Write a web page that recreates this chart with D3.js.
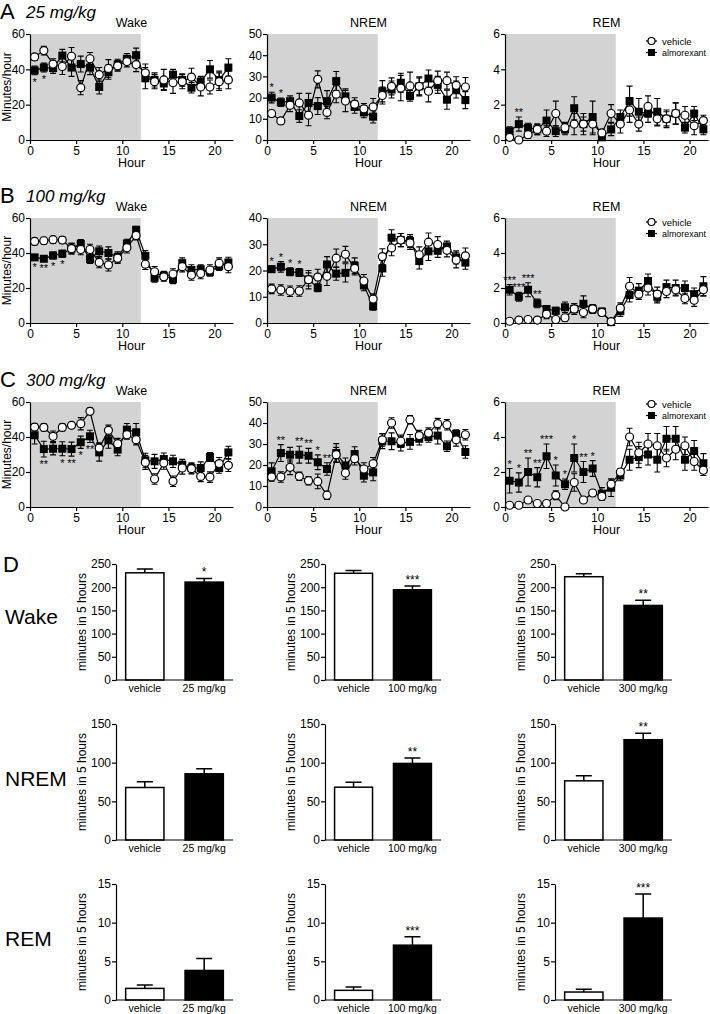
<!DOCTYPE html>
<html><head><meta charset="utf-8">
<script src="https://cdn.jsdelivr.net/npm/d3@7"></script>
<style>
body{margin:0;background:#fff}
svg{display:block}
text{font-family:"Liberation Sans",Arial,Helvetica,sans-serif;fill:#000}
.star{opacity:0.999}
</style>
</head><body>
<svg id="c" width="710" height="1014"></svg>
<script>
// ---------- DATA ----------
const hours = [0.5,1.5,2.5,3.5,4.5,5.5,6.5,7.5,8.5,9.5,10.5,11.5,12.5,13.5,14.5,15.5,16.5,17.5,18.5,19.5,20.5,21.5];
const hourTicks = [0,5,10,15,20];
const stateNames = ["Wake","NREM","REM"];
const doseNames = ["25 mg/kg","100 mg/kg","300 mg/kg"];
const rowLetters = ["A","B","C"];
const seriesNames = ["vehicle","almorexant"];

// A: 25 mg/kg
const wakeVehA = [47,50.6,43,41.6,47.4,29.6,46,37,40.5,42,44.4,42.7,38,33,34,32.4,33,35.6,30,30,33,34];
const wakeVehAErr = [2,2.5,3,4.5,5,4,3.5,4,5,3,3,4,5,4,6,6,4,5,5,4,5,5];
const wakeAlmA = [39.4,41,40.7,47.8,41,43,41,30,38.4,42.7,46,48,35,34,32,37,34,29.6,33,40,34,41];
const wakeAlmAErr = [2.5,2.5,3,3.5,5,4.5,4,4,4,3,3,4,6,4,3.5,3,3.5,3,3,5,5,5];
const nremVehA = [12.5,9,16.4,17.5,11.7,28.6,13,21.6,18.4,16.9,14.7,15.6,21,25.3,24.5,25.5,25.3,23,28,28,25.8,25];
const nremVehAErr = [1.5,1.5,3,4.5,5,4,3,4,5,3,2.5,4,4,4,6,6.5,4.5,5,4.5,4,4,4.5];
const nremAlmA = [20,17.8,18.3,11.3,17.5,16,18.3,27.8,20.6,15.6,13,11,23,23.8,27,20.8,25.3,29,26,19,23.8,18.8];
const nremAlmAErr = [2.5,2,2.5,3,4.5,4,5,4.5,3.5,3,2.5,3,5,4,4.5,2.5,4,4,4,4.5,4,4];
const remVehA = [0.15,0,0.3,0.6,0.5,1.5,0.7,0.9,0.9,0.9,0.4,1.5,0.9,1.7,0.9,1.9,1.2,1.2,1.5,1.4,0.8,1.1];
const remVehAErr = [0.1,0.05,0.2,0.3,0.3,0.7,0.3,0.6,0.6,0.6,0.2,0.5,0.5,0.7,0.4,0.6,0.4,0.4,0.6,0.5,0.5,0.3];
const remAlmA = [0.5,0.9,0.7,0.6,1.1,0.5,0.6,1.8,0.9,1.3,0.15,0.6,1.3,2.2,1.6,1.5,1.6,1.2,1.5,0.7,1.5,0.6];
const remAlmAErr = [0.25,0.4,0.25,0.3,0.6,0.3,0.3,0.65,0.4,0.9,0.1,0.35,0.4,0.85,0.75,0.5,0.75,0.5,0.6,0.3,0.4,0.3];

// B: 100 mg/kg
const wakeVehB = [46.6,47,47.6,47.4,42.5,42,42,34.6,33.2,37,43,50,33.6,29.3,26.4,28,32.2,27.4,28.3,30.3,34.2,32.2];
const wakeVehBErr = [2,2,2,2,3,3,3,3,3.5,3,3,2.5,3,3,2.5,3,3,3,3,3,3,3.5];
const wakeAlmB = [37.5,36.7,38.6,39.6,42.5,45.2,36.5,41,40,37.7,45.4,53.2,38.4,25.8,27,25,34.2,30.3,30.7,29.3,32.6,34.6];
const wakeAlmBErr = [1.5,1.5,2,2,3,2.5,2.5,3,3.5,3,2.5,2,3,2.5,2.5,2.5,3,3,2.5,2.5,2.5,3];
const nremVehB = [13,12.6,12.1,12.2,16.5,17.5,17.8,24.7,26.2,20.8,16,9.1,25.3,28.6,31.6,30.5,26,30.8,29.9,27.7,24,25.6];
const nremVehBErr = [1.8,2,2,2,3.5,3,3.5,3.5,3,2.5,2.5,2,3,3,2.5,2.5,3,3.5,3,2.5,3,3];
const nremAlmB = [20.5,21.4,19.5,19.2,16.6,13.4,22.3,18.8,19.1,21.8,14.3,6.4,20.8,32.5,31.6,31.2,23.6,27.3,27.5,29.2,25,23];
const nremAlmBErr = [1.2,2,1.5,1.5,2.5,1.5,3,2.5,3.5,3,2,1.5,3,3,2.5,2.5,3,3.5,2.5,2,2.5,2.5];
const remVehB = [0.1,0.17,0.2,0.17,0.5,0.2,0.3,0.8,0.6,0.8,0.6,0.08,0.85,2.1,1.65,2.0,1.65,1.8,1.9,1.4,1.3,1.9];
const remVehBErr = [0.05,0.05,0.1,0.05,0.25,0.1,0.2,0.3,0.3,0.25,0.2,0.05,0.3,0.5,0.3,0.4,0.4,0.35,0.3,0.3,0.35,0.35];
const remAlmB = [1.9,1.5,1.9,1.12,0.8,0.7,0.9,0.8,1.1,0.8,0.65,0.05,0.67,1.6,1.85,2.4,1.5,2.05,2.0,2.0,1.65,2.1];
const remAlmBErr = [0.3,0.25,0.4,0.25,0.2,0.2,0.3,0.3,0.45,0.25,0.2,0.05,0.3,0.4,0.4,0.4,0.35,0.4,0.45,0.4,0.35,0.55];

// C: 300 mg/kg
const wakeVehC = [45.7,45.5,40.4,45.5,46.7,47.6,54.7,33.7,43.8,36.2,41.3,38.5,25.5,16,25.1,14.7,22.3,21.9,17.5,17.1,24.8,23.8];
const wakeVehCErr = [2,2,3,2,1.5,3.5,2,3,3,3,2.5,3,4,3,3.5,3,3.5,3,3,3,3.5,3.5];
const wakeAlmC = [41,33.1,33.3,33.3,33.1,37,40.4,31.2,38.1,32.8,44.2,42.7,26.7,26.1,27.4,26.1,24.2,22.3,22.3,28.6,22.3,31.2];
const wakeAlmCErr = [5,4.5,3.5,4,4,3.5,3.5,5,4.5,3.5,3.5,5,4,4,3.5,3.5,3,3,3.5,2.5,3,3.5];
const nremVehC = [14.3,14.3,18.9,14.6,12.5,12.2,5.6,24.9,16.2,23,18.1,20.6,32,40,31.3,41.6,34,35.2,39.7,39.2,32,34.4];
const nremVehCErr = [2,2.5,3.5,2,2,3.5,2,3.5,3,3,3,3,3,2.5,3,2,2.5,2.5,2.5,2.5,3,2.5];
const nremAlmC = [17,25.7,24.9,24.9,24.4,21.3,18.1,25.7,19.8,25.2,14.9,16.5,31.3,31.3,30.2,31,32.5,33.3,34,28.9,34.8,26.2];
const nremAlmCErr = [4,4,3.5,4,3.5,3.5,3,4.5,3.5,3.5,3,4,3.5,4,3.5,3.5,3,2.5,4,2.5,2,3];
const remVehC = [0.1,0.1,0.4,0.2,0.2,0.67,0,1.4,0.4,0.8,0.6,1.3,2.0,4.0,3.1,3.6,3.5,2.8,3.3,3.5,2.6,2.1];
const remVehCErr = [0.05,0.05,0.15,0.05,0.1,0.25,0.02,0.5,0.1,0.2,0.2,0.3,0.2,0.5,0.6,0.6,0.7,0.5,0.6,0.5,0.5,0.3];
const remAlmC = [1.5,1.4,2.0,1.7,2.9,1.8,1.3,2.8,2.0,2.2,0.76,1.1,1.8,2.7,2.85,3.0,2.7,3.9,3.9,2.7,3.2,2.5];
const remAlmCErr = [0.7,0.55,0.8,0.55,0.7,0.6,0.3,0.8,0.6,0.45,0.35,0.5,0.3,0.6,0.6,0.6,0.7,0.7,0.7,0.6,0.6,0.55];

// significance marks: [hour, label, side]
const starsWakeA = [[0.5,"*","below"],[1.5,"*","below"]];
const starsNremA = [[0.5,"*","above"],[1.5,"*","above"]];
const starsRemA = [[1.5,"**","above"]];
const starsWakeB = [[0.5,"*","below"],[1.5,"**","below"],[2.5,"*","below"],[3.5,"*","below"]];
const starsNremB = [[0.5,"*","above"],[1.5,"*","above"],[2.5,"*","above"],[3.5,"*","above"]];
const starsRemB = [[0.5,"***","above"],[1.5,"***","above"],[2.5,"***","above"],[3.5,"**","above"]];
const starsWakeC = [[1.5,"**","below"],[3.5,"*","below"],[4.5,"**","below"],[5.5,"*","below"],[6.5,"**","below"]];
const starsNremC = [[1.5,"**","above"],[3.5,"**","above"],[4.5,"**","above"],[5.5,"*","above"],[6.5,"**","above"]];
const starsRemC = [[0.5,"*","above"],[1.5,"*","above"],[2.5,"**","above"],[3.5,"**","above"],[4.5,"***","above"],[5.5,"*","above"],[6.5,"*","above"],[7.5,"*","above"],[8.5,"**","above"],[9.5,"*","above"]];

const wakeTicks = [0,20,40,60];
const nremTicksA = [0,10,20,30,40,50];
const nremTicksB = [0,10,20,30,40];
const remTicks = [0,2,4,6];

// D: minutes in 5 hours
const barCats = ["vehicle","almorexant"];
const wakeBarVeh = [231,230,222.6];
const wakeBarVehErr = [8,6,6.5];
const wakeBarAlm = [211,194.5,160.7];
const wakeBarAlmErr = [8,8,11];
const nremBarVeh = [67.9,68.3,76.5];
const nremBarVehErr = [7.3,6.5,6.5];
const nremBarAlm = [85.6,99,129.7];
const nremBarAlmErr = [6.5,7,8.2];
const remBarVeh = [1.5,1.25,1.03];
const remBarVehErr = [0.43,0.43,0.35];
const remBarAlm = [3.82,7.09,10.6];
const remBarAlmErr = [1.55,1.08,3.1];
const wakeBarStars = ["*","***","**"];
const nremBarStars = ["","**","**"];
const remBarStars = ["","***","***"];
const wakeBarTicks = [0,50,100,150,200,250];
const nremBarTicks = [0,50,100,150];
const remBarTicks = [0,5,10,15];
const barYTitle = "minutes in 5 hours";

// ---------- LAYOUT ----------
const svg = d3.select("#c");
const colX = [[30,233],[267,470],[505,708]];
const rowY = [[34,140],[218,323],[402,507]];
const legendY = [41,222,404];
const intFmt = d3.format("d");

const tsRows = [
  {dose:doseNames[0], panels:[
    {v:wakeVehA,ve:wakeVehAErr,a:wakeAlmA,ae:wakeAlmAErr,max:60,ticks:wakeTicks,stars:starsWakeA},
    {v:nremVehA,ve:nremVehAErr,a:nremAlmA,ae:nremAlmAErr,max:50,ticks:nremTicksA,stars:starsNremA},
    {v:remVehA,ve:remVehAErr,a:remAlmA,ae:remAlmAErr,max:6,ticks:remTicks,stars:starsRemA}]},
  {dose:doseNames[1], panels:[
    {v:wakeVehB,ve:wakeVehBErr,a:wakeAlmB,ae:wakeAlmBErr,max:60,ticks:wakeTicks,stars:starsWakeB},
    {v:nremVehB,ve:nremVehBErr,a:nremAlmB,ae:nremAlmBErr,max:40,ticks:nremTicksB,stars:starsNremB},
    {v:remVehB,ve:remVehBErr,a:remAlmB,ae:remAlmBErr,max:6,ticks:remTicks,stars:starsRemB}]},
  {dose:doseNames[2], panels:[
    {v:wakeVehC,ve:wakeVehCErr,a:wakeAlmC,ae:wakeAlmCErr,max:60,ticks:wakeTicks,stars:starsWakeC},
    {v:nremVehC,ve:nremVehCErr,a:nremAlmC,ae:nremAlmCErr,max:50,ticks:nremTicksA,stars:starsNremC},
    {v:remVehC,ve:remVehCErr,a:remAlmC,ae:remAlmCErr,max:6,ticks:remTicks,stars:starsRemC}]}
];

function styleAxis(g, fs){
  g.attr("font-family",null).attr("font-size",null);
  g.selectAll(".domain").attr("stroke","#000").attr("stroke-width",1.2);
  g.selectAll(".tick line").attr("stroke","#000").attr("stroke-width",1.2);
  g.selectAll(".tick text").attr("font-size",fs).attr("fill","#000");
}

function errBars(g, xs, ys, vals, errs, cap){
  const d = vals.map((v,i)=>({x:xs(i), lo:ys(Math.max(0,v-errs[i])), hi:ys(v+errs[i])}));
  g.selectAll(null).data(d).enter().append("path")
    .attr("d", e=>`M${e.x},${e.lo}V${e.hi}M${e.x-cap},${e.hi}H${e.x+cap}M${e.x-cap},${e.lo}H${e.x+cap}`)
    .attr("stroke","#000").attr("stroke-width",1.1).attr("fill","none");
}

tsRows.forEach((row, ri)=>{
  const [top,bottom] = rowY[ri];
  svg.append("text").attr("x",0).attr("y",top-15).attr("font-size",22).text(rowLetters[ri]);
  svg.append("text").attr("x",26).attr("y",top-16).attr("font-size",17).attr("font-style","italic").text(row.dose);
  row.panels.forEach((p, ci)=>{
    const [x0,x1] = colX[ci];
    const x = d3.scaleLinear().domain([0,22]).range([x0,x1]);
    const y = d3.scaleLinear().domain([0,p.max]).range([bottom,top]);
    const g = svg.append("g");
    g.append("rect").attr("x",x(0)).attr("y",top).attr("width",x(12)-x(0)).attr("height",bottom-top).attr("fill","#d3d3d3");
    const ax = g.append("g").attr("transform",`translate(0,${bottom})`)
      .call(d3.axisBottom(x).tickValues(hourTicks).tickFormat(intFmt).tickSize(4).tickSizeOuter(0).tickPadding(2));
    styleAxis(ax, 12);
    const ay = g.append("g").attr("transform",`translate(${x0},0)`)
      .call(d3.axisLeft(y).tickValues(p.ticks).tickFormat(intFmt).tickSize(4).tickSizeOuter(0).tickPadding(1));
    styleAxis(ay, 12);
    g.append("text").attr("x",(x0+x1)/2).attr("y",top-7).attr("text-anchor","middle").attr("font-size",12.5).text(stateNames[ci]);
    g.append("text").attr("x",(x0+x1)/2).attr("y",bottom+27).attr("text-anchor","middle").attr("font-size",12.5).text("Hour");
    if(ci===0){
      g.append("text").attr("transform",`translate(11,${(top+bottom)/2}) rotate(-90)`)
        .attr("text-anchor","middle").attr("font-size",12).text("Minutes/hour");
    }
    const xi = i=>x(hours[i]);
    errBars(g, xi, y, p.a, p.ae, 3);
    errBars(g, xi, y, p.v, p.ve, 3);
    const line = d3.line().x((d,i)=>x(hours[i])).y(d=>y(d));
    g.append("path").attr("d",line(p.a)).attr("fill","none").attr("stroke","#000").attr("stroke-width",1.2);
    g.append("path").attr("d",line(p.v)).attr("fill","none").attr("stroke","#000").attr("stroke-width",1.2);
    g.selectAll(null).data(p.a).enter().append("rect")
      .attr("x",(d,i)=>x(hours[i])-4).attr("y",d=>y(d)-4).attr("width",8).attr("height",8).attr("fill","#000");
    g.selectAll(null).data(p.v).enter().append("circle")
      .attr("cx",(d,i)=>x(hours[i])).attr("cy",d=>y(d)).attr("r",4)
      .attr("fill","#fff").attr("stroke","#000").attr("stroke-width",1.2);
    p.stars.forEach(s=>{
      const i = hours.indexOf(s[0]);
      const yy = s[2]==="above" ? y(p.a[i]+p.ae[i]) - 1 : y(p.a[i]-p.ae[i]) + 11;
      g.append("text").attr("class","star").attr("x",x(s[0])).attr("y",yy).attr("text-anchor","middle").attr("font-size",11).text(s[1]);
    });
    if(ci===2){
      const ly = legendY[ri];
      const lg = g.append("g");
      seriesNames.forEach((nm, k)=>{
        const yy = ly + k*11.5;
        lg.append("line").attr("x1",646).attr("x2",657).attr("y1",yy).attr("y2",yy).attr("stroke","#000").attr("stroke-width",1.2);
        if(k===0) lg.append("circle").attr("cx",651.5).attr("cy",yy).attr("r",3.5).attr("fill","#fff").attr("stroke","#000").attr("stroke-width",1.2);
        else lg.append("rect").attr("x",648).attr("y",yy-3.5).attr("width",7).attr("height",7).attr("fill","#000");
        const t = lg.append("text").attr("x",662).attr("y",yy+3.5).attr("font-size",9.5).text(nm);
        if(k===1) t.attr("textLength",44).attr("lengthAdjust","spacingAndGlyphs");
      });
    }
  });
});

// ---------- D: bars ----------
const barCols = [[116,233],[325,441],[555,672]];
const barRows = [
  {top:564,bottom:680,max:250,ticks:wakeBarTicks,veh:wakeBarVeh,vehE:wakeBarVehErr,alm:wakeBarAlm,almE:wakeBarAlmErr,stars:wakeBarStars,label:stateNames[0],labelY:624},
  {top:724,bottom:840,max:150,ticks:nremBarTicks,veh:nremBarVeh,vehE:nremBarVehErr,alm:nremBarAlm,almE:nremBarAlmErr,stars:nremBarStars,label:stateNames[1],labelY:786},
  {top:884,bottom:1000,max:15,ticks:remBarTicks,veh:remBarVeh,vehE:remBarVehErr,alm:remBarAlm,almE:remBarAlmErr,stars:remBarStars,label:stateNames[2],labelY:946}
];
svg.append("text").attr("x",3).attr("y",572).attr("font-size",22).text("D");
barRows.forEach(r=>{
  svg.append("text").attr("x",5).attr("y",r.labelY).attr("font-size",21).text(r.label);
  barCols.forEach(([x0,x1], ci)=>{
    const g = svg.append("g");
    const x = d3.scaleBand().domain(barCats).range([x0,x1]).paddingInner(0.33).paddingOuter(0.15);
    const y = d3.scaleLinear().domain([0,r.max]).range([r.bottom,r.top]);
    const vals = [{c:barCats[0],v:r.veh[ci],e:r.vehE[ci]},{c:barCats[1],v:r.alm[ci],e:r.almE[ci]}];
    g.selectAll(null).data(vals).enter().append("path")
      .attr("d",d=>{const cx=x(d.c)+x.bandwidth()/2; return `M${cx},${y(d.v)}V${y(d.v+d.e)}M${cx-8},${y(d.v+d.e)}H${cx+8}`;})
      .attr("stroke","#000").attr("stroke-width",1.5).attr("fill","none");
    g.selectAll(null).data(vals).enter().append("rect")
      .attr("x",d=>x(d.c)+0.75).attr("y",d=>y(d.v)).attr("width",x.bandwidth()-1.5).attr("height",d=>r.bottom-y(d.v))
      .attr("fill",(d,i)=>i===0?"#fff":"#000").attr("stroke","#000").attr("stroke-width",1.5);
    const ay = g.append("g").attr("transform",`translate(${x0},0)`)
      .call(d3.axisLeft(y).tickValues(r.ticks).tickFormat(intFmt).tickSize(4).tickSizeOuter(0).tickPadding(1));
    styleAxis(ay, 12);
    g.append("line").attr("x1",x0).attr("x2",x1).attr("y1",r.bottom).attr("y2",r.bottom).attr("stroke","#000").attr("stroke-width",1.2);
    const cats = ["vehicle", doseNames[ci]];
    barCats.forEach((c,k)=>{
      g.append("text").attr("x",x(c)+x.bandwidth()/2).attr("y",r.bottom+12).attr("text-anchor","middle")
        .attr("font-size",10.5).text(cats[k]);
    });
    g.append("text").attr("transform",`translate(${x0-30},${(r.top+r.bottom)/2}) rotate(-90)`)
      .attr("text-anchor","middle").attr("font-size",12).text(barYTitle);
    if(r.stars[ci]){
      g.append("text").attr("class","star").attr("x",x(barCats[1])+x.bandwidth()/2).attr("y",y(r.alm[ci]+r.almE[ci])-2)
        .attr("text-anchor","middle").attr("font-size",12).text(r.stars[ci]);
    }
  });
});
</script>
</body></html>
